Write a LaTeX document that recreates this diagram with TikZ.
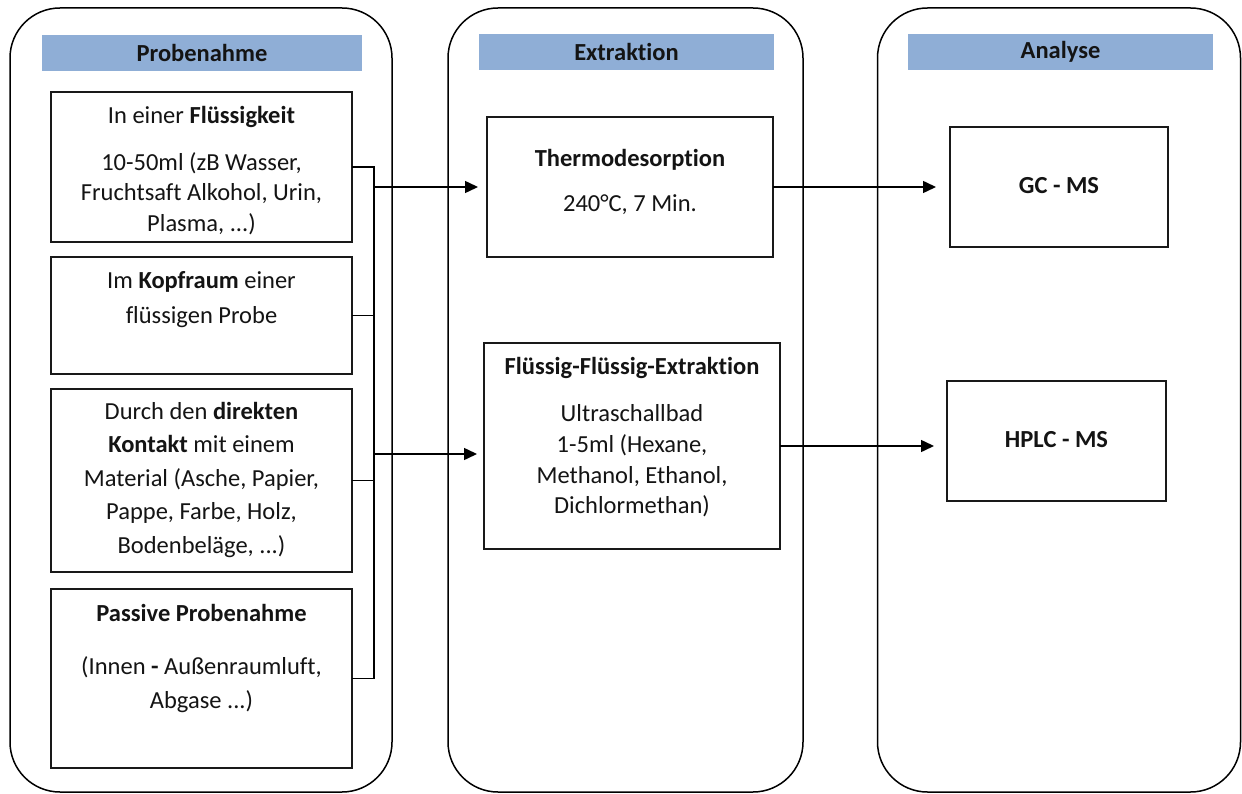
\documentclass[tikz,border=0pt]{standalone}
\usepackage{fontspec}
\setmainfont{Carlito}[Ligatures={NoCommon}]
\usetikzlibrary{arrows.meta}
\definecolor{hdrblue}{RGB}{143,174,214}
\definecolor{txt}{RGB}{20,20,20}
\tikzset{
  panel/.style={draw=black, line width=1.5pt, rounded corners=50pt, inner sep=0pt, outer sep=0pt},
  hdr/.style={fill=hdrblue, draw=none, inner sep=0pt, minimum height=36pt, text=txt, font=\fontsize{24.5}{28}\selectfont\bfseries},
  stepbox/.style={draw=black!90, line width=2.2pt, inner sep=0pt, outer sep=0pt, fill=white},
  lbl/.style={text=txt, align=center, inner sep=0pt},
  conn/.style={draw=black, line width=1.5pt},
  arr/.style={conn, -{Triangle[length=13pt,width=12pt]}}
}
\begin{document}
\begin{tikzpicture}[x=1pt,y=-1pt]
\useasboundingbox (0,0) rectangle (1242,794);
% panels
\node[panel, minimum width=382pt, minimum height=784pt] (p1) at (201,400) {};
\node[panel, minimum width=355pt, minimum height=784pt] (p2) at (625.5,400) {};
\node[panel, minimum width=363pt, minimum height=784pt] (p3) at (1059,400) {};
% headers
\node[hdr, minimum width=320pt] (h1) at (202,53) {Probenahme};
\node[hdr, minimum width=295pt] (h2) at (626.5,52) {Extraktion};
\node[hdr, minimum width=305pt] (h3) at (1060.5,52) {Analyse};
% left boxes
\node[stepbox, minimum width=301pt, minimum height=150pt] (b1) at (201.5,167) {};
\node[stepbox, minimum width=301pt, minimum height=117pt] (b2) at (201.5,315.5) {};
\node[stepbox, minimum width=301pt, minimum height=183pt] (b3) at (201.5,480.5) {};
\node[stepbox, minimum width=301pt, minimum height=179pt] (b4) at (201.5,678.5) {};
% middle boxes
\node[stepbox, minimum width=286pt, minimum height=140pt] (t1) at (630,187) {};
\node[stepbox, minimum width=296pt, minimum height=206pt] (t2) at (632,446) {};
% right boxes
\node[stepbox, minimum width=218pt, minimum height=120pt] (a1) at (1059,187) {};
\node[stepbox, minimum width=219pt, minimum height=120pt] (a2) at (1056.5,441) {};
% texts
\node[lbl, font=\fontsize{24.5}{30.5}\selectfont] (b1a) at (201.5,117) {In einer \textbf{Flüssigkeit}};
\node[lbl, font=\fontsize{24.5}{30.5}\selectfont] (b1b) at (201.5,193.5) {10-50ml (zB Wasser,\\Fruchtsaft Alkohol, Urin,\\Plasma, ...)};
\node[lbl, font=\fontsize{24.5}{35}\selectfont] (b2a) at (201.5,299.5) {Im \textbf{Kopfraum} einer\\flüssigen Probe};
\node[lbl, font=\fontsize{24.5}{33.5}\selectfont] (b3a) at (201.5,480) {Durch den \textbf{direkten}\\\textbf{Kontakt} mit einem\\Material (Asche, Papier,\\Pappe, Farbe, Holz,\\Bodenbeläge, ...)};
\node[lbl, font=\fontsize{24.5}{30}\selectfont] (b4a) at (201.5,613) {\textbf{Passive Probenahme}};
\node[lbl, font=\fontsize{24.5}{34}\selectfont] (b4b) at (201.5,685) {(Innen \textbf{-} Außenraumluft,\\Abgase ...)};
\node[lbl, font=\fontsize{24.5}{30}\selectfont] (t1a) at (630,160) {\textbf{Thermodesorption}};
\node[lbl, font=\fontsize{24.5}{30}\selectfont] (t1b) at (630,205) {240°C, 7 Min.};
\node[lbl, font=\fontsize{24.5}{30}\selectfont] (t2a) at (632,368) {\textbf{Flüssig-Flüssig-Extraktion}};
\node[lbl, font=\fontsize{24.5}{30.7}\selectfont] (t2b) at (632,461) {Ultraschallbad\\1-5ml (Hexane,\\Methanol, Ethanol,\\Dichlormethan)};
\node[lbl, font=\fontsize{24.5}{30}\selectfont\bfseries] (a1a) at (1059,186) {GC - MS};
\node[lbl, font=\fontsize{24.5}{30}\selectfont\bfseries] (a2a) at (1056.5,440) {HPLC - MS};
% bracket
\coordinate (bx) at (374,0);
\coordinate (j1) at (374,187);
\coordinate (j2) at (374,454);
\draw[conn] (b1.east) -- (b1.east -| bx) -- (b4.east -| bx) -- (b4.east);
\draw[conn] (b2.east) -- (b2.east -| bx);
\draw[conn] (b3.east) -- (b3.east -| bx);
% arrows
\draw[arr, shorten >=9pt] (j1) -- (j1 -| t1.west);
\draw[arr, shorten >=7pt] (j2) -- (j2 -| t2.west);
\draw[arr, shorten >=14pt] (t1.east) -- (t1.east -| a1.west);
\draw[arr, shorten >=13pt] (t2.east) -- (t2.east -| a2.west);
\end{tikzpicture}
\end{document}
